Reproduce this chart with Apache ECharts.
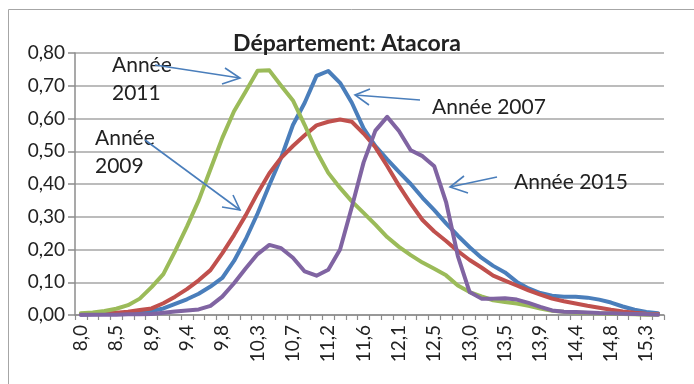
<!DOCTYPE html>
<html>
<head>
<meta charset="utf-8">
<script src="https://cdn.jsdelivr.net/npm/echarts@6/dist/echarts.min.js"></script>
<style>
	html, body { margin: 0; padding: 0; background: #fff; }
	#chart { width: 694px; height: 384px; }
</style>
</head>
<body>
<div id="chart"></div>
<script type="text/javascript">
// categories (axe X)
var categories = ['8,0','8,2','8,3','8,5','8,6','8,8','8,9','9,1','9,2','9,4',
	'9,5','9,7','9,8','10,0','10,1','10,3','10,4','10,6','10,7','10,9',
	'11,0','11,2','11,3','11,5','11,6','11,8','11,9','12,1','12,2','12,4',
	'12,5','12,7','12,8','13,0','13,2','13,3','13,5','13,6','13,8','13,9',
	'14,1','14,2','14,4','14,5','14,7','14,8','15,0','15,1','15,3','15,4'];

// Année 2007 (bleu)
var y2007 = [0.001,0.002,0.003,0.004,0.005,0.008,0.012,0.020,0.034,0.048,
	0.065,0.087,0.113,0.165,0.232,0.310,0.397,0.480,0.580,0.648,
	0.730,0.745,0.709,0.648,0.570,0.516,0.475,0.437,0.400,0.358,
	0.320,0.280,0.242,0.207,0.175,0.150,0.130,0.101,0.081,0.067,
	0.059,0.056,0.056,0.053,0.047,0.038,0.026,0.016,0.009,0.005];

// Année 2009 (rouge)
var y2009 = [0.002,0.003,0.005,0.007,0.010,0.015,0.020,0.036,0.056,0.079,
	0.106,0.137,0.188,0.244,0.305,0.372,0.433,0.480,0.516,0.549,
	0.579,0.590,0.597,0.590,0.554,0.512,0.455,0.395,0.340,0.290,
	0.255,0.226,0.195,0.168,0.145,0.120,0.105,0.090,0.075,0.062,
	0.050,0.042,0.035,0.028,0.022,0.016,0.011,0.007,0.004,0.003];

// Année 2011 (vert)
var y2011 = [0.005,0.008,0.012,0.019,0.030,0.050,0.085,0.125,0.195,0.270,
	0.350,0.445,0.540,0.622,0.683,0.746,0.747,0.700,0.655,0.580,
	0.500,0.434,0.388,0.347,0.312,0.276,0.238,0.208,0.183,0.160,
	0.141,0.121,0.090,0.070,0.057,0.045,0.040,0.035,0.028,0.020,
	0.013,0.010,0.008,0.006,0.005,0.004,0.003,0.002,0.001,0.001];

// Année 2015 (violet)
var y2015 = [0.001,0.001,0.001,0.001,0.002,0.002,0.003,0.007,0.011,0.014,
	0.017,0.028,0.056,0.097,0.143,0.186,0.214,0.204,0.175,0.133,
	0.120,0.138,0.200,0.330,0.466,0.563,0.605,0.562,0.503,0.485,
	0.454,0.345,0.180,0.070,0.050,0.050,0.051,0.047,0.037,0.025,
	0.014,0.010,0.009,0.008,0.006,0.005,0.004,0.003,0.002,0.001];

var yTicks = [0, 0.8, 0.1];   // min, max, pas

var FONT = 'Lato';
var BLUE_ARROW = '#4a7ebb';

var myChart = echarts.init(document.getElementById('chart'));

// fleche avec pointe ouverte
function arrow(x1, y1, x2, y2, a1, a2) {
	return [
		{type: 'polyline', shape: {points: [[x1, y1], [x2, y2]]}, style: {stroke: BLUE_ARROW, lineWidth: 1.6, fill: null}, z: 100},
		{type: 'polyline', shape: {points: [a1, [x2, y2], a2]}, style: {stroke: BLUE_ARROW, lineWidth: 1.6, fill: null}, z: 100}
	];
}

function note(x, y, txt) {
	return {type: 'text', left: x, top: y, z: 90,
		style: {text: txt, font: '21px ' + FONT, fill: '#222', lineHeight: 28}};
}

var graphics = [
	// cadre
	{type: 'rect', shape: {x: 8.5, y: 9.5, width: 720, height: 420}, style: {fill: null, stroke: '#a6a6a6', lineWidth: 1}, z: 0},
	note(112, 51, 'Année\n2011'),
	note(95, 124, 'Année\n2009'),
	note(432, 93, 'Année 2007'),
	note(514, 168, 'Année 2015')
];
graphics = graphics.concat(
	arrow(155, 65, 240, 78, [225, 68], [222, 84]),
	arrow(145, 140, 240, 210, [233, 195], [222, 207]),
	arrow(420, 100, 355, 95, [370, 89], [369, 105]),
	arrow(497, 177, 450, 187, [464, 176], [468, 193])
);

function serie(name, data, color) {
	return {
		name: name,
		type: 'line',
		data: data,
		symbol: 'none',
		smooth: false,
		lineStyle: {color: color, width: 4, join: 'round', cap: 'round'},
		itemStyle: {color: color}
	};
}

var options = {
	animation: false,
	textStyle: {fontFamily: FONT},
	title: {
		text: 'Département: Atacora',
		left: 'center',
		top: 27,
		textStyle: {fontFamily: FONT, fontSize: 23, fontWeight: 'bold', color: '#222'}
	},
	grid: {left: 75, right: 30, top: 53, bottom: 69},
	xAxis: {
		type: 'category',
		data: categories,
		boundaryGap: true,
		axisLine: {lineStyle: {color: '#8c8c8c', width: 1.5}},
		axisTick: {show: true, interval: 0, length: 5, lineStyle: {color: '#8c8c8c', width: 1.2}},
		axisLabel: {interval: 2, rotate: 90, fontSize: 19, color: '#222', margin: 10, fontFamily: FONT}
	},
	yAxis: {
		type: 'value',
		min: yTicks[0],
		max: yTicks[1],
		interval: yTicks[2],
		axisLine: {show: true, lineStyle: {color: '#8c8c8c', width: 1.5}},
		axisTick: {show: true, length: 7, lineStyle: {color: '#8c8c8c', width: 1.5}},
		splitLine: {lineStyle: {color: '#a6a6a6', width: 1.5}},
		axisLabel: {
			fontSize: 19, color: '#222', margin: 10, fontFamily: FONT,
			formatter: function (v) { return v.toFixed(2).replace('.', ','); }
		}
	},
	series: [
		serie('Année 2007', y2007, '#4a7ebb'),
		serie('Année 2009', y2009, '#c0504d'),
		serie('Année 2011', y2011, '#9bbb59'),
		serie('Année 2015', y2015, '#8064a2')
	],
	graphic: graphics
};
myChart.setOption(options);
</script>
</body>
</html>
